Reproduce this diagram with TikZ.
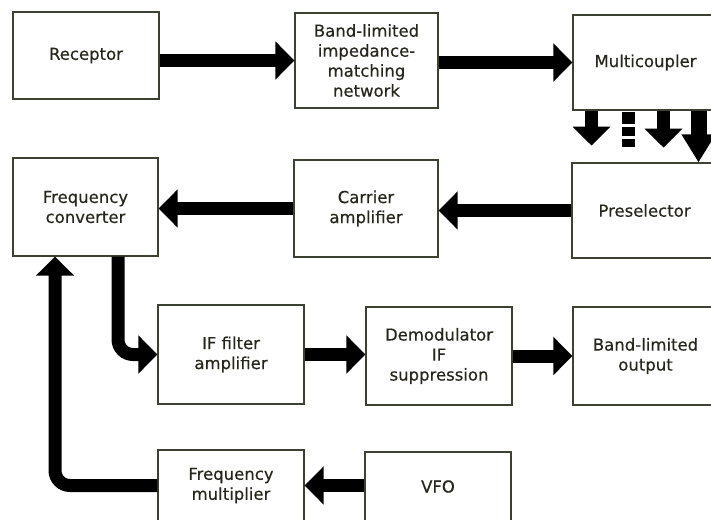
\documentclass[tikz,border=0pt]{standalone}
\usepackage{fontspec}
\setmainfont{DejaVu Sans}[FakeBold=0.4]
\newfontfamily\blkfont{DejaVu Sans}[FakeBold=0.35]
\usetikzlibrary{arrows.meta}
\definecolor{boxc}{HTML}{3C4232}
\definecolor{txtc}{HTML}{26261C}
\tikzset{
  blk/.style={draw=boxc, line width=1.1pt, fill=white, text=txtc, align=center,
    inner sep=0pt, font=\blkfont\fontsize{16.5}{20}\selectfont},
  arr/.style={line width=13pt, draw=black, -{Triangle[length=19pt,width=37pt]}},
  bigarr/.style={line width=16pt, draw=black, -{Triangle[length=28pt,width=32pt]}},
}
\begin{document}
\begin{tikzpicture}[x=1pt,y=-1pt]
\useasboundingbox (0,0) rectangle (711,519);
\clip (0,0) rectangle (711,519);
\fill[white] (0,0) rectangle (711,519);
% boxes
\node[blk, minimum width=146pt, minimum height=87pt] (rec) at (86,55.5) {\raisebox{-4pt}{Receptor}};
\node[blk, minimum width=143pt, minimum height=95pt] (band) at (366.5,60.5) {Band-limited\\impedance-\\matching\\network};
\node[blk, minimum width=145pt, minimum height=95pt] (multi) at (645.5,62.5) {Multicoupler};
\node[blk, minimum width=145pt, minimum height=95pt] (pres) at (644.5,210.5) {Preselector};
\node[blk, minimum width=144pt, minimum height=97pt] (car) at (366,208.5) {Carrier\\amplifier};
\node[blk, minimum width=145pt, minimum height=98pt] (fc) at (85.5,207) {Frequency\\converter};
\node[blk, minimum width=146pt, minimum height=99pt] (if) at (231,354.5) {IF filter\\amplifier};
\node[blk, minimum width=146pt, minimum height=98pt] (demod) at (439,356) {Demodulator\\IF\\suppression};
\node[blk, minimum width=145pt, minimum height=98pt] (blo) at (645.5,356) {Band-limited\\output};
\node[blk, minimum width=146pt, minimum height=71pt] (fm) at (231,485.5) {Frequency\\multiplier};
\node[blk, minimum width=146pt, minimum height=69pt] (vfo) at (438,486.5) {VFO};
% straight connectors
\draw[arr] (rec.east |- band.west) -- (band.west);
\draw[arr] (band.east |- multi.west) -- (multi.west);
\draw[arr] (pres.west) -- (pres.west -| car.east);
\draw[arr] (car.west) -- (car.west -| fc.east);
\draw[arr] (if.east) -- (if.east -| demod.west);
\draw[arr] (demod.east) -- (demod.east -| blo.west);
\draw[arr] (vfo.west |- fm.east) -- (fm.east);
% bent connectors
\draw[arr, rounded corners=15pt] ([xshift=32.5pt]fc.south) |- (if.west);
\draw[arr, rounded corners=15pt] (fm.west) -| ([xshift=-30.5pt]fc.south);
% multicoupler outputs
\draw[arr] ([xshift=-54pt]multi.south) -- ++(0,35);
\draw[arr] ([xshift=18pt]multi.south) -- ++(0,37);
\draw[bigarr] ([xshift=53pt]multi.south) -- ([xshift=53pt]multi.south |- pres.north);
\fill (622,112) rectangle (635,124);
\fill (622,127) rectangle (635,136);
\fill (622,139) rectangle (635,147);
\end{tikzpicture}
\end{document}
